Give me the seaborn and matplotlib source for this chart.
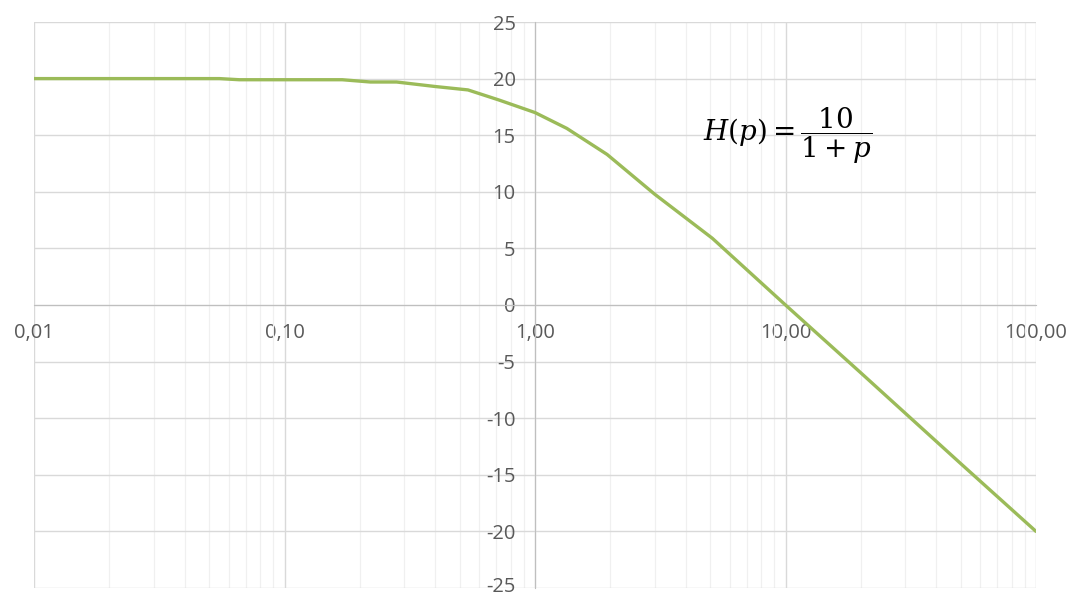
import matplotlib
matplotlib.use("Agg")
import matplotlib.pyplot as plt
import matplotlib.transforms as mtransforms
import seaborn as sns
import pandas as pd
from matplotlib.ticker import FixedLocator, LogLocator, NullFormatter

# data
freq = [0.01, 0.055, 0.066, 0.17, 0.22, 0.28, 0.40, 0.54, 0.72, 1.0, 1.34, 1.94, 3.0, 5.1, 10.0, 20.0, 50.0, 100.0]
gain_db = [20.0, 20.0, 19.9, 19.9, 19.7, 19.7, 19.3, 19.0, 18.1, 17.0, 15.6, 13.3, 9.8, 5.9, 0.0, -6.0, -14.0, -20.0]
x_ticks = [0.01, 0.1, 1, 10, 100]
x_tick_labels = ["0,01", "0,10", "1,00", "10,00", "100,00"]
y_ticks = [-25, -20, -15, -10, -5, 0, 5, 10, 15, 20, 25]
y_tick_labels = [str(v) for v in y_ticks]

sns.set_style("white")
plt.rcParams['font.family'] = ['Open Sans', 'DejaVu Sans']
plt.rcParams['mathtext.fontset'] = 'dejavuserif'

df = pd.DataFrame({"freq": freq, "gain": gain_db})

fig = plt.figure(figsize=(10.75, 5.96), dpi=100)
ax = fig.add_axes([34/1075, 1 - 588/596, (1036 - 34)/1075, (588 - 22)/596])

sns.lineplot(data=df, x="freq", y="gain", ax=ax, color="#9bbb59", linewidth=2.4, zorder=5)

ax.set_xscale("log")
ax.set_xlim(0.01, 100)
ax.set_ylim(-25, 25)

ax.xaxis.set_major_locator(FixedLocator(x_ticks))
ax.set_xticklabels(x_tick_labels)
ax.xaxis.set_minor_locator(LogLocator(base=10, subs=range(2, 10)))
ax.xaxis.set_minor_formatter(NullFormatter())
ax.set_yticks(y_ticks)
ax.set_yticklabels(y_tick_labels)

ax.grid(which="major", axis="both", color="#d9d9d9", linewidth=1.0, zorder=0)
ax.grid(which="minor", axis="x", color="#f0f0f0", linewidth=0.9, zorder=0)
ax.set_axisbelow(True)

for s in ["top", "right"]:
    ax.spines[s].set_visible(False)
ax.spines["left"].set_position(("data", 1))
ax.spines["bottom"].set_position(("data", 0))
ax.spines["left"].set_color("#bfbfbf")
ax.spines["bottom"].set_color("#bfbfbf")
ax.spines["left"].set_zorder(1)
ax.spines["bottom"].set_zorder(1)

ax.tick_params(axis="x", which="both", length=0, pad=13, labelsize=14.5, labelcolor="#595959")
ax.tick_params(axis="y", which="both", length=0, pad=14, labelsize=14.5, labelcolor="#595959")

# nudge the lowest y label up slightly so it stays inside the figure
lowest = ax.get_yticklabels()[0]
lowest.set_transform(lowest.get_transform() +
                     mtransforms.ScaledTranslation(0, 3/100, fig.dpi_scale_trans))

ax.set_xlabel("")
ax.set_ylabel("")

ax.text(0.752, 0.80, r"$H(p) = \dfrac{10}{1+p}$", transform=ax.transAxes,
        fontsize=20, ha="center", va="center", color="black")

fig.savefig("out.png", dpi=100)
